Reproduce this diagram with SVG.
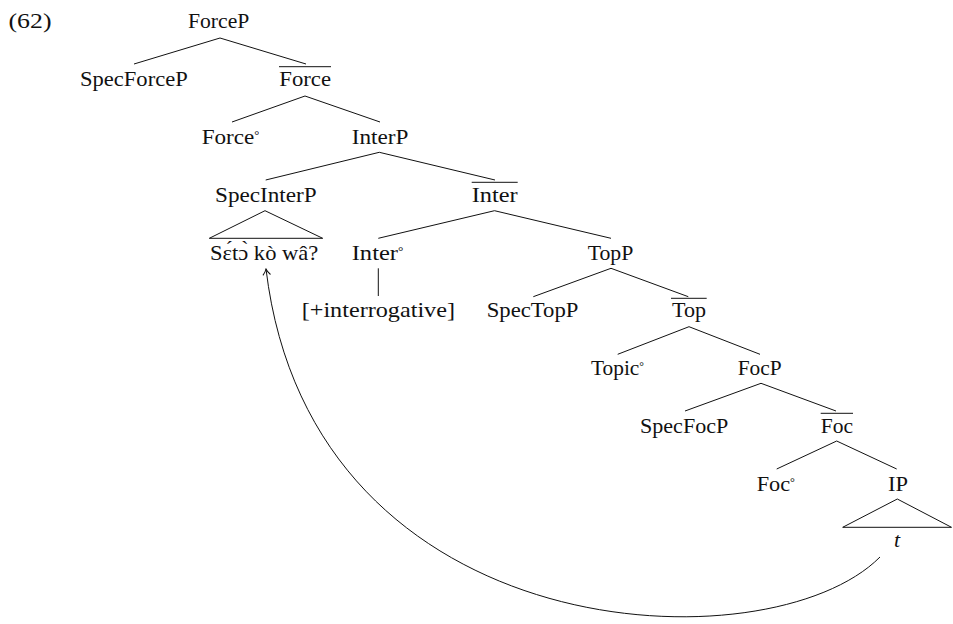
<svg xmlns="http://www.w3.org/2000/svg" width="953" height="624" viewBox="0 0 953 624">
  <style>
    text { font-family: "Liberation Serif", "DejaVu Serif", serif; font-size: 22px; fill: #111; }
    .deg { font-size: 12px; }
    .it { font-style: italic; }
    line, path, polygon { stroke: #111; stroke-width: 1; fill: none; }
  </style>
  <defs>
    <marker id="tip" viewBox="0 0 10 10" refX="9" refY="5" markerWidth="10" markerHeight="10" markerUnits="userSpaceOnUse" orient="auto">
      <path d="M3,1.2 Q6,4 9,5 Q6,6 3,8.8" stroke-width="0.9"/>
    </marker>
  </defs>

  <rect width="953" height="624" fill="#fff"/>

  <text id="exnum" x="8.5" y="28.3" font-size="24" textLength="43" lengthAdjust="spacingAndGlyphs">(62)</text>

  <!-- tree branches -->
  <g id="connectors">
    <line x1="220" y1="38" x2="134" y2="64"/>
    <line x1="220" y1="38" x2="306" y2="64"/>
    <line x1="305" y1="96" x2="232" y2="122"/>
    <line x1="305" y1="96" x2="380" y2="122"/>
    <line x1="379.3" y1="152.3" x2="265.7" y2="180"/>
    <line x1="379.3" y1="152.3" x2="495" y2="180"/>
    <line x1="494.5" y1="210.7" x2="378.3" y2="238.3"/>
    <line x1="494.5" y1="210.7" x2="611" y2="238.3"/>
    <line x1="378.3" y1="268.3" x2="378.3" y2="296"/>
    <line x1="611" y1="268.3" x2="533.3" y2="296.7"/>
    <line x1="611" y1="268.3" x2="688.3" y2="296.7"/>
    <line x1="689" y1="326.7" x2="617.7" y2="354.3"/>
    <line x1="689" y1="326.7" x2="760" y2="354.3"/>
    <line x1="761" y1="383.3" x2="685" y2="411"/>
    <line x1="761" y1="383.3" x2="836" y2="411"/>
    <line x1="836.7" y1="441" x2="776.7" y2="469"/>
    <line x1="836.7" y1="441" x2="896.7" y2="469"/>
    <!-- roof triangles -->
    <polygon points="265,210.7 209.3,238.3 322.7,238.3"/>
    <polygon points="897.3,499 842.7,527.3 951.5,527.3"/>
    <!-- movement arrow from the trace up to the fronted phrase -->
    <path d="M880,557 C770,668 312,652 266,269" marker-end="url(#tip)"/>
  </g>

  <g id="n-ForceP"><text x="188" y="28" textLength="61.3" lengthAdjust="spacingAndGlyphs">ForceP</text></g>
  <g id="n-SpecForceP"><text x="80" y="86" textLength="107.7" lengthAdjust="spacingAndGlyphs">SpecForceP</text></g>
  <g id="n-ForceBar">
    <line x1="279" y1="66.7" x2="331" y2="66.7"/>
    <text x="279.3" y="86" textLength="51.7" lengthAdjust="spacingAndGlyphs">Force</text>
  </g>
  <g id="n-Force0"><text x="201.7" y="144" textLength="57.7" lengthAdjust="spacingAndGlyphs">Force<tspan class="deg" dy="-5">°</tspan></text></g>
  <g id="n-InterP"><text x="351.7" y="144" textLength="56.7" lengthAdjust="spacingAndGlyphs">InterP</text></g>
  <g id="n-SpecInterP"><text x="215" y="202" textLength="101.7" lengthAdjust="spacingAndGlyphs">SpecInterP</text></g>
  <g id="n-InterBar">
    <line x1="471.7" y1="182.3" x2="517.7" y2="182.3"/>
    <text x="471.7" y="202" textLength="46" lengthAdjust="spacingAndGlyphs">Inter</text>
  </g>
  <g id="n-wh"><text x="210" y="260" textLength="108.3" lengthAdjust="spacingAndGlyphs">Sɛ́tɔ̀ kò wâ?</text></g>
  <g id="n-Inter0"><text x="351.7" y="260" textLength="51.7" lengthAdjust="spacingAndGlyphs">Inter<tspan class="deg" dy="-5">°</tspan></text></g>
  <g id="n-TopP"><text x="587.7" y="260" textLength="45.7" lengthAdjust="spacingAndGlyphs">TopP</text></g>
  <g id="n-feature"><text x="301.7" y="317" textLength="153.3" lengthAdjust="spacingAndGlyphs">[+interrogative]</text></g>
  <g id="n-SpecTopP"><text x="486.7" y="317" textLength="91.7" lengthAdjust="spacingAndGlyphs">SpecTopP</text></g>
  <g id="n-TopBar">
    <line x1="671" y1="298.3" x2="706.7" y2="298.3"/>
    <text x="672" y="317" textLength="34" lengthAdjust="spacingAndGlyphs">Top</text>
  </g>
  <g id="n-Topic0"><text x="591" y="375" textLength="53" lengthAdjust="spacingAndGlyphs">Topic<tspan class="deg" dy="-5">°</tspan></text></g>
  <g id="n-FocP"><text x="737.7" y="375" textLength="44" lengthAdjust="spacingAndGlyphs">FocP</text></g>
  <g id="n-SpecFocP"><text x="640" y="432.5" textLength="88.3" lengthAdjust="spacingAndGlyphs">SpecFocP</text></g>
  <g id="n-FocBar">
    <line x1="820.7" y1="413.3" x2="853" y2="413.3"/>
    <text x="820.7" y="432.5" textLength="32.3" lengthAdjust="spacingAndGlyphs">Foc</text>
  </g>
  <g id="n-Foc0"><text x="756.7" y="490.5" textLength="38.3" lengthAdjust="spacingAndGlyphs">Foc<tspan class="deg" dy="-5">°</tspan></text></g>
  <g id="n-IP"><text x="888" y="490.5" textLength="20" lengthAdjust="spacingAndGlyphs">IP</text></g>
  <g id="n-trace"><text class="it" x="897" y="547" text-anchor="middle">t</text></g>
</svg>
